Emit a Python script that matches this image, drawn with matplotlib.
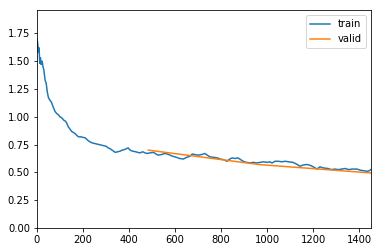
import matplotlib
matplotlib.use("Agg")
import matplotlib.pyplot as plt

# training loss (iteration, smoothed loss)
train_iters = [0, 3, 6, 9, 12, 15, 18, 22, 26, 30, 35, 40, 45, 50, 56, 63, 70, 78, 85, 92,
               100, 108, 116, 124, 130, 136, 143, 150, 157, 165, 172, 180, 190, 200, 210, 220,
               230, 240, 250, 260, 270, 280, 290, 300, 310, 320, 330, 340, 350, 360, 370, 380,
               390, 396, 405, 417, 430, 446, 460, 470, 478, 490, 507, 517, 527, 540, 556, 567,
               578, 590, 607, 620, 636, 650, 665, 675, 687, 700, 715, 730, 740, 752, 770, 785,
               796, 810, 826, 838, 848, 862, 874, 885, 896, 910, 926, 940, 955, 970, 985, 1000,
               1012, 1022, 1035, 1050, 1065, 1078, 1095, 1113, 1128, 1143, 1155, 1168, 1178, 1192,
               1205, 1217, 1230, 1245, 1265, 1280, 1295, 1310, 1325, 1340, 1355, 1370, 1391, 1405,
               1420, 1435, 1445, 1451]
train_loss = [1.70, 1.66, 1.58, 1.62, 1.48, 1.53, 1.47, 1.50, 1.45, 1.42, 1.33, 1.30, 1.22, 1.17,
              1.15, 1.13, 1.09, 1.05, 1.03, 1.02, 1.00, 0.99, 0.97, 0.96, 0.94, 0.91, 0.89, 0.87,
              0.86, 0.85, 0.835, 0.82, 0.82, 0.815, 0.81, 0.79, 0.775, 0.765, 0.76, 0.755, 0.75,
              0.745, 0.74, 0.735, 0.72, 0.71, 0.695, 0.68, 0.685, 0.69, 0.70, 0.705, 0.715, 0.72,
              0.70, 0.69, 0.685, 0.675, 0.685, 0.675, 0.67, 0.675, 0.68, 0.665, 0.655, 0.66, 0.67,
              0.665, 0.655, 0.645, 0.635, 0.625, 0.62, 0.635, 0.645, 0.665, 0.66, 0.655, 0.66,
              0.67, 0.655, 0.64, 0.635, 0.63, 0.62, 0.615, 0.60, 0.62, 0.63, 0.625, 0.63, 0.615,
              0.60, 0.59, 0.585, 0.59, 0.585, 0.59, 0.595, 0.59, 0.595, 0.585, 0.60, 0.60, 0.595,
              0.60, 0.595, 0.59, 0.575, 0.555, 0.565, 0.57, 0.57, 0.56, 0.545, 0.53, 0.55, 0.54,
              0.535, 0.525, 0.53, 0.525, 0.53, 0.535, 0.525, 0.53, 0.53, 0.52, 0.515, 0.51, 0.515,
              0.525]

# validation loss at the end of each epoch
valid_iters = [484, 968, 1451]
valid_loss = [0.70, 0.57, 0.495]

fig = plt.figure(figsize=(382 / 72, 252 / 72), dpi=72)
ax = fig.add_axes([37 / 382, 24 / 252, 334 / 382, 218 / 252])

ax.plot(train_iters, train_loss, label='train')
ax.plot(valid_iters, valid_loss, label='valid')
ax.set_xlim(0, 1452)
ax.set_ylim(0, 1.96)
ax.set_yticks([0, 0.25, 0.5, 0.75, 1.0, 1.25, 1.5, 1.75])
ax.legend(loc='upper right')

fig.savefig('out.png', dpi=72)
